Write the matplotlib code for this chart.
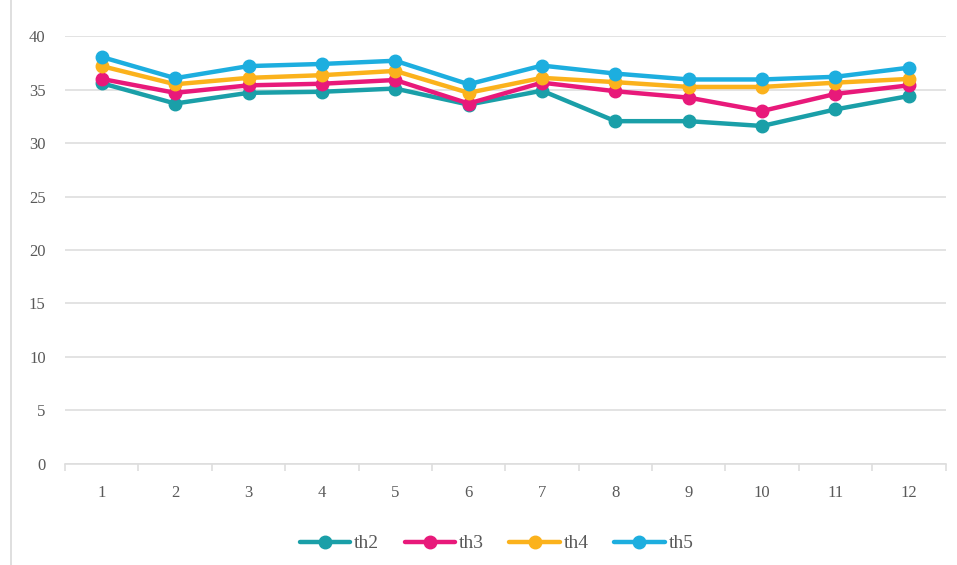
import numpy as np
import matplotlib
matplotlib.use("Agg")
from matplotlib import pyplot as plt

# categories and series values
months = [1, 2, 3, 4, 5, 6, 7, 8, 9, 10, 11, 12]
th2 = [35.6, 33.7, 34.7, 34.8, 35.1, 33.6, 34.9, 32.05, 32.05, 31.6, 33.15, 34.4]
th3 = [36.0, 34.7, 35.4, 35.55, 35.9, 33.7, 35.65, 34.85, 34.25, 33.0, 34.6, 35.4]
th4 = [37.2, 35.5, 36.1, 36.35, 36.75, 34.7, 36.1, 35.7, 35.25, 35.25, 35.65, 36.0]
th5 = [38.05, 36.07, 37.2, 37.4, 37.7, 35.5, 37.25, 36.5, 35.95, 35.95, 36.2, 37.05]
yticks = [0, 5, 10, 15, 20, 25, 30, 35, 40]

series = [("th2", th2, "#1A9FA8"), ("th3", th3, "#E8197A"),
          ("th4", th4, "#FBB21C"), ("th5", th5, "#1DAEDF")]

plt.rcParams["font.family"] = ["Liberation Serif", "DejaVu Serif"]
text_col = "#595959"

fig = plt.figure(figsize=(9.57, 5.65), dpi=100)
ax = fig.add_axes([0.068, 0.179, 0.920, 0.757])

x = np.arange(1, len(months) + 1)
for name, vals, col in series:
    ax.plot(x, vals, color=col, lw=3.2, marker="o", markersize=9,
            label=name, solid_capstyle="round", zorder=3)

ax.set_xlim(0.5, len(months) + 0.5)
ax.set_ylim(0, 40)
ax.set_yticks(yticks)
ax.set_yticklabels([str(v) for v in yticks], color=text_col, fontsize=12)
ax.grid(axis="y", color="#dedede", lw=1.2, zorder=0)
ax.set_axisbelow(True)

ax.set_xticks(x)
ax.set_xticklabels([str(m) for m in months], color=text_col, fontsize=12)
ax.tick_params(axis="x", length=0, pad=15)
ax.tick_params(axis="y", length=0, pad=14)
# category separators on the axis
ax.set_xticks(np.arange(0.5, len(months) + 1, 1), minor=True)
ax.tick_params(axis="x", which="minor", length=5, color="#dedede", width=1.2)

for side in ["top", "right", "left"]:
    ax.spines[side].set_visible(False)
ax.spines["bottom"].set_color("#dedede")
ax.spines["bottom"].set_linewidth(1.2)

leg = ax.legend(loc="upper center", bbox_to_anchor=(0.49, -0.125), ncol=4,
                frameon=False, fontsize=14, handlelength=2.6,
                columnspacing=1.3, handletextpad=0.2)
for t in leg.get_texts():
    t.set_color(text_col)

# faint chart border on the left
fig.add_artist(plt.Line2D([0.011, 0.011], [0.0, 1.0], color="#d9d9d9", lw=1.2))

plt.savefig("out.png", dpi=100)
plt.close()
